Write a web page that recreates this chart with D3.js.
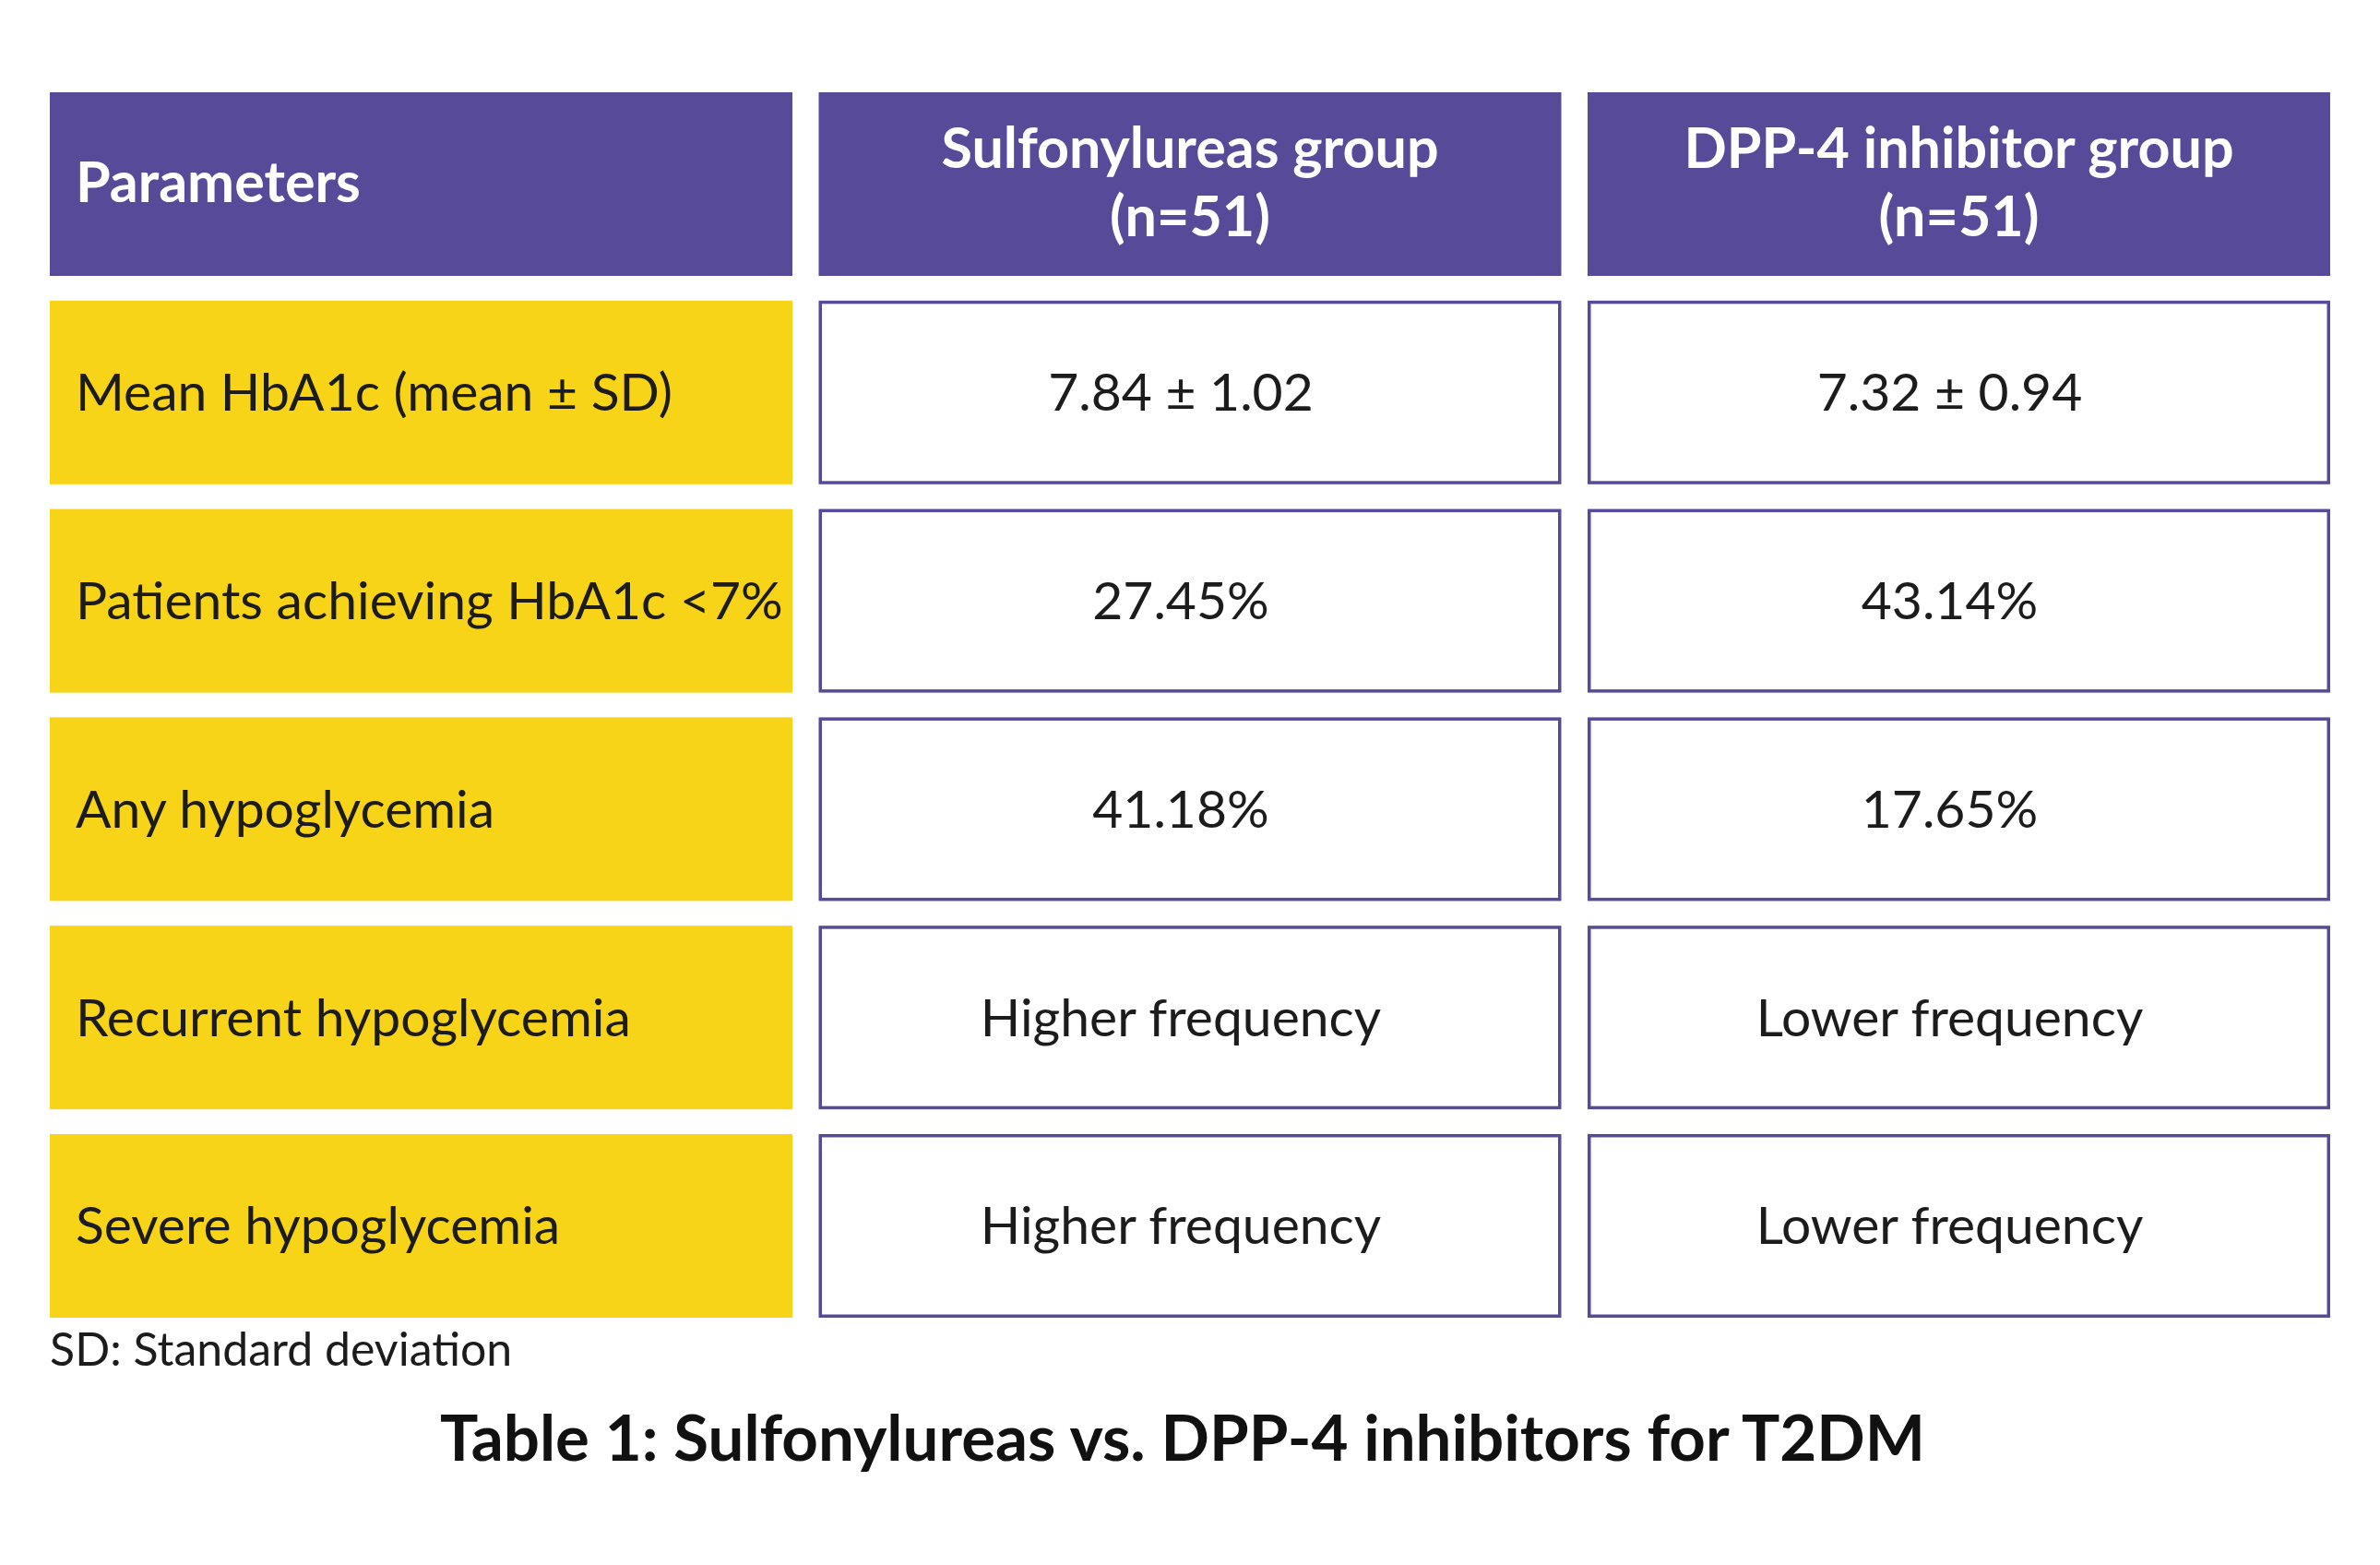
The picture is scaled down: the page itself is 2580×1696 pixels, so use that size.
<!DOCTYPE html>
<html>
<head>
    <title>Sulfonylureas vs DPP-4 inhibitors</title>
    <script src="https://d3js.org/d3.v7.min.js"></script>
    <style>
        body {
            margin: 0;
            background: #fff;
            font-family: Lato, "Open Sans", sans-serif;
        }
        .head-text {
            fill: #fff;
            font-weight: 700;
            font-size: 61px;
        }
        .label-text {
            fill: #1c1c1c;
            font-size: 57px;
        }
        .value-text {
            fill: #1c1c1c;
            font-size: 57px;
        }
    </style>
</head>
<body>
    <div id="chart"></div>
    <script>
        // table content
        const headers = [["Parameters"], ["Sulfonylureas group", "(n=51)"], ["DPP-4 inhibitor group", "(n=51)"]];
        const parameters = [
            "Mean HbA1c (mean \u00b1 SD)",
            "Patients achieving HbA1c <7%",
            "Any hypoglycemia",
            "Recurrent hypoglycemia",
            "Severe hypoglycemia"
        ];
        const sulfonylureas = ["7.84 \u00b1 1.02", "27.45%", "41.18%", "Higher frequency", "Higher frequency"];
        const dpp4 = ["7.32 \u00b1 0.94", "43.14%", "17.65%", "Lower frequency", "Lower frequency"];
        const footnote = "SD: Standard deviation";
        const caption = "Table 1: Sulfonylureas vs. DPP-4 inhibitors for T2DM";

        const width = 2580, height = 1696;
        const purple = "#564a99", yellow = "#f7d417";

        const svg = d3.select("#chart").append("svg")
            .attr("width", width)
            .attr("height", height);

        const colKeys = ["param", "sulf", "dpp4"];
        const x = d3.scaleBand().domain(colKeys).range([54, 2526]).paddingInner(0.0342);
        const rowKeys = ["header"].concat(parameters);
        const y = d3.scaleBand().domain(rowKeys).range([100, 1428]).paddingInner(0.1187);

        // header row
        const head = svg.append("g");
        colKeys.forEach((k, i) => {
            head.append("rect")
                .attr("x", x(k)).attr("y", y("header"))
                .attr("width", x.bandwidth()).attr("height", y.bandwidth())
                .attr("fill", purple);
            const lines = headers[i];
            const left = i === 0;
            const cy = y("header") + y.bandwidth() / 2 - 2;
            const lh = 74;
            lines.forEach((t, j) => {
                head.append("text")
                    .attr("class", "head-text")
                    .attr("x", left ? x(k) + 28 : x(k) + x.bandwidth() / 2)
                    .attr("y", cy + (j - (lines.length - 1) / 2) * lh)
                    .attr("dy", "0.35em")
                    .attr("text-anchor", left ? "start" : "middle")
                    .text(t);
            });
        });

        // body rows
        const rows = svg.append("g").selectAll("g")
            .data(parameters.map((p, i) => ({ p, s: sulfonylureas[i], d: dpp4[i] })))
            .join("g")
            .attr("transform", d => `translate(0,${y(d.p)})`);

        rows.append("rect")
            .attr("x", x("param")).attr("y", 0)
            .attr("width", x.bandwidth()).attr("height", y.bandwidth())
            .attr("fill", yellow);
        rows.append("text")
            .attr("class", "label-text")
            .attr("x", x("param") + 28)
            .attr("y", y.bandwidth() / 2)
            .attr("dy", "0.35em")
            .text(d => d.p);

        const sw = 3.5;
        [["sulf", "s"], ["dpp4", "d"]].forEach(([k, f]) => {
            rows.append("rect")
                .attr("x", x(k) + sw / 2).attr("y", sw / 2)
                .attr("width", x.bandwidth() - sw).attr("height", y.bandwidth() - sw)
                .attr("fill", "#fff")
                .attr("stroke", purple)
                .attr("stroke-width", sw);
            rows.append("text")
                .attr("class", "value-text")
                .attr("x", x(k) + x.bandwidth() / 2 - 10)
                .attr("y", y.bandwidth() / 2)
                .attr("dy", "0.35em")
                .attr("text-anchor", "middle")
                .text(d => d[f]);
        });

        // footnote and caption
        svg.append("text")
            .attr("x", 54).attr("y", 1462)
            .attr("dy", "0.35em")
            .attr("fill", "#1c1c1c")
            .attr("font-size", 50)
            .text(footnote);

        svg.append("text")
            .attr("x", width / 2 - 8).attr("y", 1559)
            .attr("dy", "0.35em")
            .attr("text-anchor", "middle")
            .attr("fill", "#111")
            .attr("font-size", 69)
            .attr("font-weight", 700)
            .text(caption);
    </script>
</body>
</html>
